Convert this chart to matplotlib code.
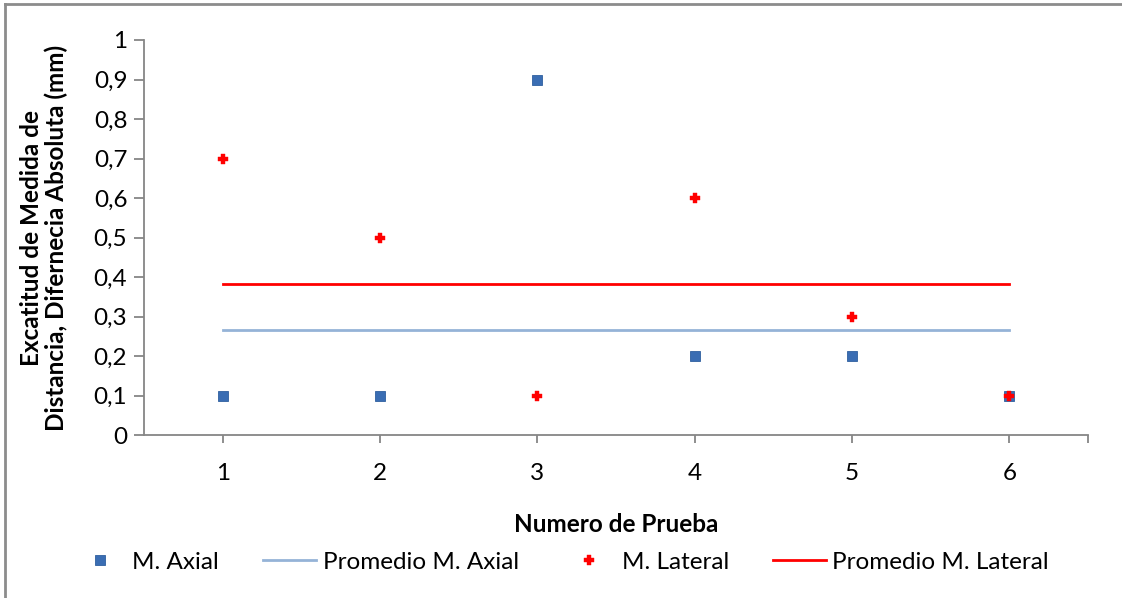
import numpy as np
import matplotlib
matplotlib.use("Agg")
import matplotlib.pyplot as plt
from matplotlib.lines import Line2D

plt.rcParams['font.family'] = ['Lato', 'DejaVu Sans']

# Data
pruebas = [1, 2, 3, 4, 5, 6]
axial = [0.1, 0.1, 0.9, 0.2, 0.2, 0.1]
lateral = [0.7, 0.5, 0.1, 0.6, 0.3, 0.1]
yticks = [0, 0.1, 0.2, 0.3, 0.4, 0.5, 0.6, 0.7, 0.8, 0.9, 1]
ytick_labels = ["0", "0,1", "0,2", "0,3", "0,4", "0,5", "0,6", "0,7", "0,8", "0,9", "1"]

W, H = 1122, 598
fig = plt.figure(figsize=(W / 100, H / 100), dpi=100)
ax = fig.add_axes([144 / W, 1 - 435 / H, (1088 - 144) / W, (435 - 40) / H])

axis_gray = "#868686"
fs = 17.5

prom_axial = np.mean(axial)
prom_lateral = np.mean(lateral)

ax.plot(pruebas, axial, linestyle="none", marker="s", markersize=6.8,
        markerfacecolor="#3a6db3", markeredgecolor="#2f5f9f", markeredgewidth=0.6,
        label="M. Axial", zorder=3)
ax.plot(pruebas, [prom_axial] * len(pruebas), color="#95b3d7", lw=2,
        label="Promedio M. Axial", zorder=2)
ax.plot(pruebas, lateral, linestyle="none", marker="P", markersize=7,
        markerfacecolor="#ff0000", markeredgecolor="#ff0000", markeredgewidth=0.3,
        label="M. Lateral", zorder=4)
ax.plot(pruebas, [prom_lateral] * len(pruebas), color="#ff0000", lw=2,
        label="Promedio M. Lateral", zorder=2)

ax.set_xlim(0.5, 6.5)
ax.set_ylim(0, 1)
ax.set_yticks(yticks)
ax.set_yticklabels(ytick_labels, fontsize=fs)
ax.set_xticks(pruebas + [6.5])
ax.set_xticklabels([str(p) for p in pruebas] + [""], fontsize=fs)

for s in ["top", "right"]:
    ax.spines[s].set_visible(False)
for s in ["left", "bottom"]:
    ax.spines[s].set_color(axis_gray)
    ax.spines[s].set_linewidth(1.3)

ax.tick_params(axis="y", direction="out", length=7, width=1.3, color=axis_gray, pad=5)
ax.tick_params(axis="x", direction="out", length=6, width=1.3, color=axis_gray, pad=14)

ax.set_xlabel("Numero de Prueba", fontsize=fs, fontweight="bold")
ax.xaxis.set_label_coords(0.5, -(524 - 435) / (435 - 40), transform=ax.transAxes)
ax.xaxis.label.set_verticalalignment("center")
ax.set_ylabel("Excatitud de Medida de\nDistancia, Difernecia Absoluta (mm)",
              fontsize=fs, fontweight="bold", linespacing=1.1)
ax.yaxis.set_label_coords(-(144 - 44) / (1088 - 144), 0.5, transform=ax.transAxes)
ax.yaxis.label.set_verticalalignment("center")

leg = fig.legend(loc="center", bbox_to_anchor=(0.5, 1 - 562 / H), ncol=4,
                 frameon=False, fontsize=fs, handlelength=2.2,
                 handletextpad=0.25, columnspacing=1.8, markerscale=1.0)

# Outer chart border
fig.add_artist(Line2D([5 / W, 5 / W], [0, 1 - 4 / H], color="#8c8c8c", lw=2,
                      transform=fig.transFigure))
fig.add_artist(Line2D([5 / W, 1], [1 - 4 / H, 1 - 4 / H], color="#8c8c8c", lw=2,
                      transform=fig.transFigure))

fig.savefig("out.png", dpi=100)
